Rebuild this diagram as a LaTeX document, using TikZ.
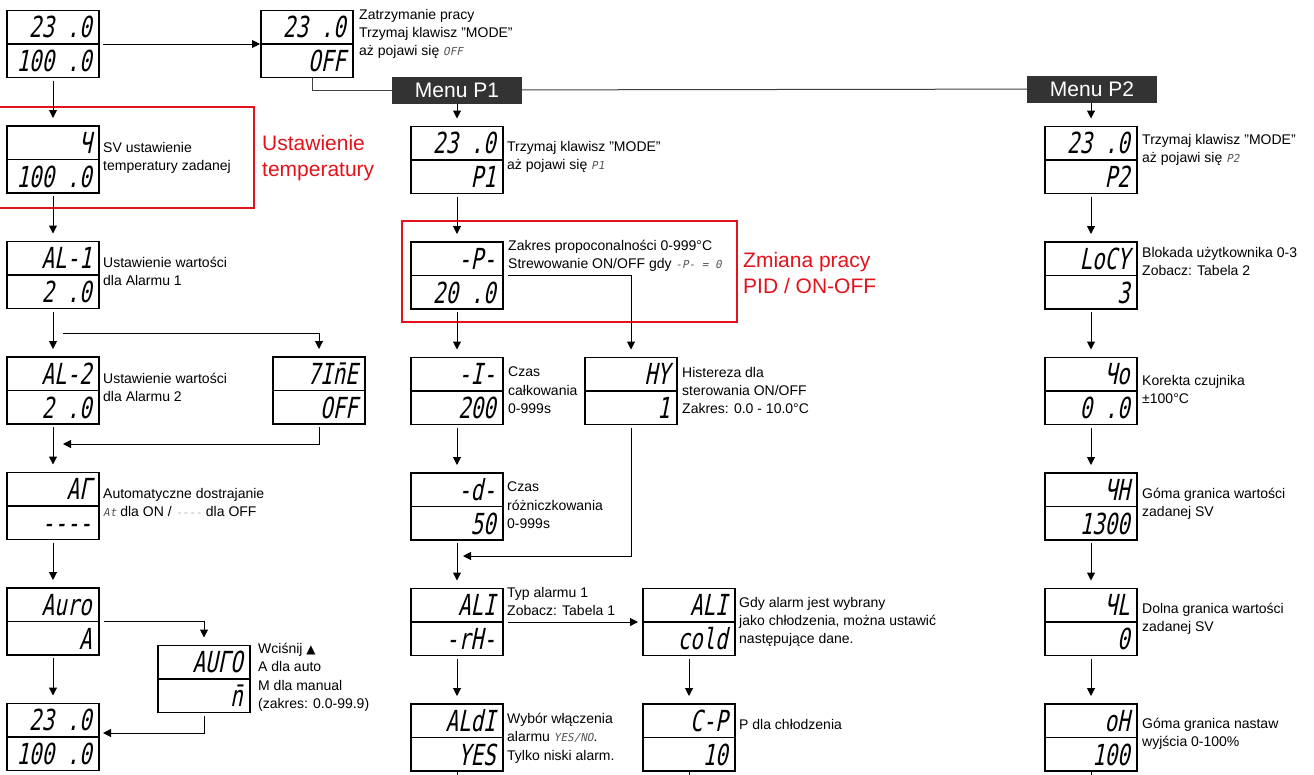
\documentclass[tikz,border=0pt]{standalone}
\usepackage{fontspec}
\setmainfont{Liberation Sans}
\newfontfamily\segfont{DejaVu Sans Mono}[FakeSlant=0.2,FakeStretch=0.72]
\newfontfamily\seginline{DejaVu Sans Mono}[FakeSlant=0.2]
\newfontfamily\symfont{DejaVu Sans}
\usetikzlibrary{arrows.meta,positioning}
\definecolor{alarmred}{HTML}{E3121B}
\definecolor{menudark}{HTML}{333333}
\definecolor{seggray}{HTML}{555555}
\newcommand{\seg}[1]{{\seginline\fontsize{11}{11}\selectfont\color{seggray}#1}}

\begin{document}
\begin{tikzpicture}[x=1pt,y=-1pt,node distance=48.5pt,
 disp/.style={draw,line width=1.8pt,minimum width=92pt,minimum height=67pt,inner sep=0pt,outer sep=0pt,
   path picture={\draw[line width=1.4pt] (path picture bounding box.west) -- (path picture bounding box.east);}},
 up/.style={anchor=base east,inner sep=0pt,xshift=-7pt,yshift=-27pt,font=\segfont\fontsize{29}{29}\selectfont},
 dn/.style={anchor=base east,inner sep=0pt,xshift=-7pt,yshift=6pt,font=\segfont\fontsize{29}{29}\selectfont},
 note/.style={anchor=north west,inner sep=0pt,align=left,font=\fontsize{14}{18.3}\selectfont},
 redtxt/.style={anchor=north west,inner sep=0pt,align=left,text=alarmred,font=\fontsize{21}{26}\selectfont},
 menu/.style={fill=menudark,text=white,minimum width=130pt,minimum height=27pt,inner sep=0pt,font=\fontsize{21}{21}\selectfont},
 flow/.style={-{Triangle[length=8pt,width=8pt]},line width=1pt,shorten >=8pt,shorten <=3pt},
 link/.style={line width=1pt,draw=black!75}]
\useasboundingbox (0,0) rectangle (1314,774);

% ramki
\draw[alarmred,line width=1.5pt] (-2,107) rectangle (254,208);
\draw[alarmred,line width=1.5pt] (402,221) rectangle (737,322);
\node[redtxt] (ust) at (262,135) {Ustawienie\\temperatury};
\node[redtxt] (zmiana) at (743,252) {Zmiana pracy\\PID / ON-OFF};

% kolumna lewa
\node[disp,label={[up]north east:23 .0},label={[dn]south east:100 .0}] (b1) at (53,44) {};
\node[disp,right=162pt of b1,label={[up]north east:23 .0},label={[dn]south east:OFF}] (off) {};
\node[disp,below=of b1,label={[up]north east:Ч},label={[dn]south east:100 .0}] (sv) {};
\node[disp,below=of sv,label={[up]north east:AL-1},label={[dn]south east:2 .0}] (al1) {};
\node[disp,below=of al1,label={[up]north east:AL-2},label={[dn]south east:2 .0}] (al2) {};
\node[disp,right=174pt of al2,label={[up]north east:7In̄E},label={[dn]south east:OFF}] (time) {};
\node[disp,below=of al2,label={[up]north east:AΓ},label={[dn]south east:----}] (af) {};
\node[disp,below=of af,label={[up]north east:Auro},label={[dn]south east:A}] (auro) {};
\node[disp,label={[up]north east:AUΓO},label={[dn]south east:n̄}] (auto) at (204,679) {};
\node[disp,below=of auro,label={[up]north east:23 .0},label={[dn]south east:100 .0}] (last) {};

\node[note] (offtxt) at (359,9) {Zatrzymanie pracy\\Trzymaj klawisz "MODE"\\aż pojawi się \seg{OFF}};
\node[note] (svtxt) at (103,142) {SV ustawienie\\temperatury zadanej};
\node[note] (al1txt) at (103,257) {Ustawienie wartości\\dla Alarmu 1};
\node[note] (al2txt) at (103,373) {Ustawienie wartości\\dla Alarmu 2};
\node[note] (aftxt) at (103,488) {Automatyczne dostrajanie\\\seg{At} dla ON / {\seginline\fontsize{11}{11}\selectfont\color{gray!60}----} dla OFF};
\node[note] (autotxt) at (258,643) {Wciśnij {\symfont\fontsize{12}{12}\selectfont ▲}\\A dla auto\\M dla manual\\(zakres: 0.0-99.9)};

% menu
\node[menu] (menu1) at (457,90) {Menu P1};
\node[menu] (menu2) at (1092,89) {Menu P2};

% kolumna P1
\node[disp,label={[up]north east:23 .0},label={[dn]south east:P1}] (p1) at (457,160) {};
\node[disp,below=of p1,label={[up]north east:-P-},label={[dn]south east:20 .0}] (pp) {};
\node[disp,below=of pp,label={[up]north east:-I-},label={[dn]south east:200}] (ii) {};
\node[disp,right=82pt of ii,label={[up]north east:HY},label={[dn]south east:1}] (hy) {};
\node[disp,below=of ii,label={[up]north east:-d-},label={[dn]south east:50}] (dd) {};
\node[disp,below=of dd,label={[up]north east:ALI},label={[dn]south east:-rH-}] (alone) {};
\node[disp,right=140pt of alone,label={[up]north east:ALI},label={[dn]south east:cold}] (cold) {};
\node[disp,below=of alone,label={[up]north east:ALdI},label={[dn]south east:YES}] (aldi) {};
\node[disp,below=of cold,label={[up]north east:C-P},label={[dn]south east:10}] (cp) {};

\node[note] (p1txt) at (507,141) {Trzymaj klawisz "MODE"\\aż pojawi się \seg{P1}};
\node[note] (pptxt) at (508,240) {Zakres propoconalności 0-999°C\\Strewowanie ON/OFF gdy \seg{-P- = 0}};
\node[note] (iitxt) at (508,367) {Czas\\całkowania\\0-999s};
\node[note] (hytxt) at (682,367) {Histereza dla\\sterowania ON/OFF\\Zakres: 0.0 - 10.0°C};
\node[note] (ddtxt) at (507,482) {Czas\\różniczkowania\\0-999s};
\node[note] (alonetxt) at (507,587) {Typ alarmu 1\\Zobacz: Tabela 1};
\node[note] (coldtxt) at (739,597) {Gdy alarm jest wybrany\\jako chłodzenia, można ustawić\\następujące dane.};
\node[note] (alditxt) at (507,713) {Wybór włączenia\\alarmu \seg{YES/NO}.\\Tylko niski alarm.};
\node[note] (cptxt) at (739,719) {P dla chłodzenia};

% kolumna P2
\node[disp,label={[up]north east:23 .0},label={[dn]south east:P2}] (p2) at (1091,160) {};
\node[disp,below=of p2,label={[up]north east:LoCY},label={[dn]south east:3}] (locy) {};
\node[disp,below=of locy,label={[up]north east:Чo},label={[dn]south east:0 .0}] (ho) {};
\node[disp,below=of ho,label={[up]north east:ЧH},label={[dn]south east:1300}] (hh) {};
\node[disp,below=of hh,label={[up]north east:ЧL},label={[dn]south east:0}] (hl) {};
\node[disp,below=of hl,label={[up]north east:oH},label={[dn]south east:100}] (oh) {};

\node[note] (p2txt) at (1142,134) {Trzymaj klawisz "MODE"\\aż pojawi się \seg{P2}};
\node[note] (locytxt) at (1142,247) {Blokada użytkownika 0-3\\Zobacz: Tabela 2};
\node[note] (hotxt) at (1142,375) {Korekta czujnika\\±100°C};
\node[note] (hhtxt) at (1142,488) {Góma granica wartości\\zadanej SV};
\node[note] (hltxt) at (1142,603) {Dolna granica wartości\\zadanej SV};
\node[note] (ohtxt) at (1142,718) {Góma granica nastaw\\wyjścia 0-100\%};

% strzalki
\draw[flow,shorten >=1pt,shorten <=4pt] (b1) -- (off);
\draw[link] ([xshift=5pt]off.south) |- (menu1);
\draw[link] (menu1) -- (menu2);
\draw[flow] (b1) -- (sv);
\draw[flow] (sv) -- (al1);
\draw[flow] (al1) -- (al2);
\draw[flow,shorten <=0pt] ([xshift=10pt,yshift=-25pt]al1.south) -| (time);
\draw[flow,shorten >=0pt] (time) |- ([xshift=10pt,yshift=-20pt]al2.south);
\draw[flow] (al2) -- (af);
\draw[flow] (af) -- (auro);
\draw[flow,shorten <=0pt] ([xshift=5pt]auro.east) -| (auto);
\draw[flow] (auro) -- (last);
\draw[flow,shorten >=4pt] (auto) |- ([yshift=4pt]last.east);

\draw[flow,shorten <=0pt] (menu1) -- (p1);
\draw[flow] (p1) -- (pp);
\draw[flow] (pp) -- (ii);
\draw[flow,shorten <=0pt] ([xshift=5pt]pp.east) -| (hy);
\draw[flow] (ii) -- (dd);
\draw[flow,shorten >=0pt] (hy) |- ([xshift=6pt,yshift=-16pt]dd.south);
\draw[flow] (dd) -- (alone);
\draw[flow,shorten <=5pt,shorten >=5pt] (alone) -- (cold);
\draw[flow] (alone) -- (aldi);
\draw[flow] (cold) -- (cp);
\draw[line width=1pt] (aldi.south) -- ++(0,8);
\draw[line width=1pt] (cp.south) -- ++(0,8);

\draw[flow,shorten <=0pt] (menu2.south -| p2) -- (p2);
\draw[flow] (p2) -- (locy);
\draw[flow] (locy) -- (ho);
\draw[flow] (ho) -- (hh);
\draw[flow] (hh) -- (hl);
\draw[flow] (hl) -- (oh);
\draw[line width=1pt] (oh.south) -- ++(0,8);
\end{tikzpicture}
\end{document}
